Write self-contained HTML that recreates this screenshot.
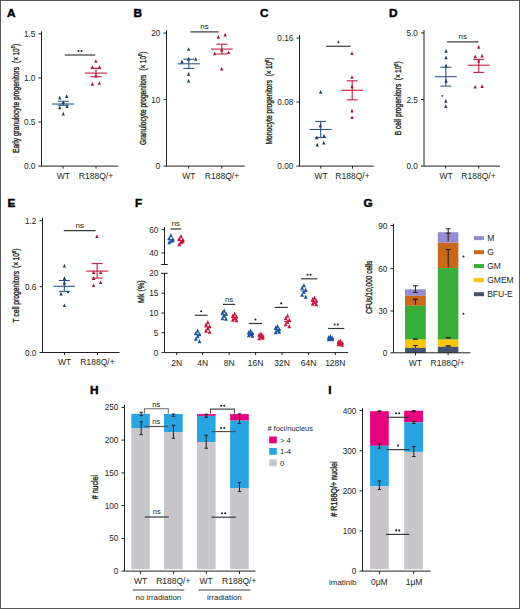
<!DOCTYPE html><html><head><meta charset="utf-8"><style>html,body{margin:0;padding:0;background:#fff;}svg{display:block;}text{font-family:"Liberation Sans", sans-serif;}</style></head><body>
<svg width="520" height="609" viewBox="0 0 520 609">
<rect x="0" y="0" width="520.00" height="609.00" fill="#ffffff"/>
<rect x="0.5" y="0.5" width="519" height="608" fill="none" stroke="#595959" stroke-width="1"/>
<text x="6.9" y="16.8" font-size="11.8" text-anchor="start" font-weight="bold" fill="#000" stroke="#000" stroke-width="0.45">A</text>
<line x1="41.5" y1="31.3" x2="41.5" y2="166.1" stroke="#231f20" stroke-width="1"/>
<line x1="38.5" y1="33.8" x2="41.5" y2="33.8" stroke="#231f20" stroke-width="1"/>
<text x="35.3" y="36.8" font-size="8.2" text-anchor="end" font-weight="normal" fill="#231f20" >1.5</text>
<line x1="38.5" y1="77.9" x2="41.5" y2="77.9" stroke="#231f20" stroke-width="1"/>
<text x="35.3" y="80.9" font-size="8.2" text-anchor="end" font-weight="normal" fill="#231f20" >1.0</text>
<line x1="38.5" y1="122" x2="41.5" y2="122" stroke="#231f20" stroke-width="1"/>
<text x="35.3" y="125.0" font-size="8.2" text-anchor="end" font-weight="normal" fill="#231f20" >0.5</text>
<line x1="38.5" y1="166.1" x2="41.5" y2="166.1" stroke="#231f20" stroke-width="1"/>
<text x="35.3" y="169.1" font-size="8.2" text-anchor="end" font-weight="normal" fill="#231f20" >0.0</text>
<line x1="41.5" y1="166.1" x2="118" y2="166.1" stroke="#231f20" stroke-width="1"/>
<line x1="63" y1="166.1" x2="63" y2="168.6" stroke="#231f20" stroke-width="1"/>
<line x1="96" y1="166.1" x2="96" y2="168.6" stroke="#231f20" stroke-width="1"/>
<text x="63.3" y="178.7" font-size="8.5" text-anchor="middle" font-weight="normal" fill="#231f20" >WT</text>
<text x="96" y="178.7" font-size="8.5" text-anchor="middle" font-weight="normal" fill="#231f20" >R188Q/+</text>
<text x="0" y="0" font-size="9.4" text-anchor="middle" fill="#231f20" stroke="#231f20" stroke-width="0.35" transform="translate(18.5,109.95) rotate(-90)" textLength="86.10" lengthAdjust="spacingAndGlyphs">Early granulocyte progenitors</text>
<text x="0" y="0" font-size="9.4" text-anchor="middle" fill="#231f20" stroke="#231f20" stroke-width="0.35" transform="translate(18.5,53.40) rotate(-90)" textLength="19.00" lengthAdjust="spacingAndGlyphs">(×&#8201;10<tspan font-size="5.6" dy="-3.3">6</tspan><tspan dy="3.3">)</tspan></text>
<line x1="64.8" y1="55" x2="95.2" y2="55" stroke="#383838" stroke-width="1.2"/>
<circle cx="78.45" cy="51.00" r="1.05" fill="#231f20"/>
<circle cx="81.55" cy="51.00" r="1.05" fill="#231f20"/>
<line x1="52.25" y1="104" x2="74.25" y2="104" stroke="#2d5688" stroke-width="1.1"/>
<line x1="63.25" y1="101.3" x2="63.25" y2="105.3" stroke="#2d5688" stroke-width="1.1"/>
<line x1="57.75" y1="101.3" x2="68.75" y2="101.3" stroke="#2d5688" stroke-width="1.1"/>
<line x1="57.75" y1="105.3" x2="68.75" y2="105.3" stroke="#2d5688" stroke-width="1.1"/>
<path d="M59.80 95.82 L61.45 99.45 L58.15 99.45Z" fill="#1c3a6a"/>
<path d="M66.70 94.32 L68.35 97.95 L65.05 97.95Z" fill="#1c3a6a"/>
<path d="M63.30 100.42 L64.95 104.05 L61.65 104.05Z" fill="#1c3a6a"/>
<path d="M59.80 105.62 L61.45 109.25 L58.15 109.25Z" fill="#1c3a6a"/>
<path d="M67.00 104.42 L68.65 108.05 L65.35 108.05Z" fill="#1c3a6a"/>
<path d="M63.30 111.82 L64.95 115.45 L61.65 115.45Z" fill="#1c3a6a"/>
<line x1="85.0" y1="73.1" x2="107.0" y2="73.1" stroke="#c21f3f" stroke-width="1.1"/>
<line x1="96" y1="68.3" x2="96" y2="76.7" stroke="#c21f3f" stroke-width="1.1"/>
<line x1="90.5" y1="68.3" x2="101.5" y2="68.3" stroke="#c21f3f" stroke-width="1.1"/>
<line x1="90.5" y1="76.7" x2="101.5" y2="76.7" stroke="#c21f3f" stroke-width="1.1"/>
<path d="M95.90 59.12 L97.55 62.75 L94.25 62.75Z" fill="#b0102f"/>
<path d="M92.40 65.32 L94.05 68.95 L90.75 68.95Z" fill="#b0102f"/>
<path d="M99.40 65.32 L101.05 68.95 L97.75 68.95Z" fill="#b0102f"/>
<path d="M95.90 73.82 L97.55 77.45 L94.25 77.45Z" fill="#b0102f"/>
<path d="M92.40 82.02 L94.05 85.65 L90.75 85.65Z" fill="#b0102f"/>
<path d="M99.40 81.12 L101.05 84.75 L97.75 84.75Z" fill="#b0102f"/>
<text x="133.4" y="17" font-size="11.8" text-anchor="start" font-weight="bold" fill="#000" stroke="#000" stroke-width="0.45">B</text>
<line x1="166.5" y1="30.1" x2="166.5" y2="166.1" stroke="#231f20" stroke-width="1"/>
<line x1="163.5" y1="33.1" x2="166.5" y2="33.1" stroke="#231f20" stroke-width="1"/>
<text x="160.3" y="36.1" font-size="8.2" text-anchor="end" font-weight="normal" fill="#231f20" >20</text>
<line x1="163.5" y1="99.5" x2="166.5" y2="99.5" stroke="#231f20" stroke-width="1"/>
<text x="160.3" y="102.5" font-size="8.2" text-anchor="end" font-weight="normal" fill="#231f20" >10</text>
<line x1="163.5" y1="166.1" x2="166.5" y2="166.1" stroke="#231f20" stroke-width="1"/>
<text x="160.3" y="169.1" font-size="8.2" text-anchor="end" font-weight="normal" fill="#231f20" >0</text>
<line x1="166.5" y1="166.1" x2="244.8" y2="166.1" stroke="#231f20" stroke-width="1"/>
<line x1="188.6" y1="166.1" x2="188.6" y2="168.6" stroke="#231f20" stroke-width="1"/>
<line x1="221.8" y1="166.1" x2="221.8" y2="168.6" stroke="#231f20" stroke-width="1"/>
<text x="188.8" y="178.7" font-size="8.5" text-anchor="middle" font-weight="normal" fill="#231f20" >WT</text>
<text x="222" y="178.7" font-size="8.5" text-anchor="middle" font-weight="normal" fill="#231f20" >R188Q/+</text>
<text x="0" y="0" font-size="9.4" text-anchor="middle" fill="#231f20" stroke="#231f20" stroke-width="0.35" transform="translate(145.6,109.80) rotate(-90)" textLength="70.40" lengthAdjust="spacingAndGlyphs">Granulocyte progenitors</text>
<text x="0" y="0" font-size="9.4" text-anchor="middle" fill="#231f20" stroke="#231f20" stroke-width="0.35" transform="translate(145.6,61.10) rotate(-90)" textLength="19.00" lengthAdjust="spacingAndGlyphs">(×&#8201;10<tspan font-size="5.6" dy="-3.3">6</tspan><tspan dy="3.3">)</tspan></text>
<line x1="190.3" y1="31.9" x2="218.8" y2="31.9" stroke="#383838" stroke-width="1.2"/>
<text x="204.55" y="29.299999999999997" font-size="8.0" text-anchor="middle" font-weight="normal" fill="#231f20" >ns</text>
<line x1="177.85" y1="63.8" x2="199.85" y2="63.8" stroke="#2d5688" stroke-width="1.1"/>
<line x1="188.85" y1="59.2" x2="188.85" y2="68.4" stroke="#2d5688" stroke-width="1.1"/>
<line x1="183.35" y1="59.2" x2="194.35" y2="59.2" stroke="#2d5688" stroke-width="1.1"/>
<line x1="183.35" y1="68.4" x2="194.35" y2="68.4" stroke="#2d5688" stroke-width="1.1"/>
<path d="M188.60 47.22 L190.25 50.85 L186.95 50.85Z" fill="#1c3a6a"/>
<path d="M181.90 59.62 L183.55 63.25 L180.25 63.25Z" fill="#1c3a6a"/>
<path d="M188.60 57.02 L190.25 60.65 L186.95 60.65Z" fill="#1c3a6a"/>
<path d="M195.80 57.22 L197.45 60.85 L194.15 60.85Z" fill="#1c3a6a"/>
<path d="M188.60 72.02 L190.25 75.65 L186.95 75.65Z" fill="#1c3a6a"/>
<path d="M188.60 78.92 L190.25 82.55 L186.95 82.55Z" fill="#1c3a6a"/>
<line x1="210.85" y1="49.1" x2="232.85" y2="49.1" stroke="#c21f3f" stroke-width="1.1"/>
<line x1="221.85" y1="44.2" x2="221.85" y2="54" stroke="#c21f3f" stroke-width="1.1"/>
<line x1="216.35" y1="44.2" x2="227.35" y2="44.2" stroke="#c21f3f" stroke-width="1.1"/>
<line x1="216.35" y1="54" x2="227.35" y2="54" stroke="#c21f3f" stroke-width="1.1"/>
<path d="M218.30 35.12 L219.95 38.75 L216.65 38.75Z" fill="#b0102f"/>
<path d="M225.20 32.82 L226.85 36.45 L223.55 36.45Z" fill="#b0102f"/>
<path d="M214.80 51.52 L216.45 55.15 L213.15 55.15Z" fill="#b0102f"/>
<path d="M221.70 48.02 L223.35 51.65 L220.05 51.65Z" fill="#b0102f"/>
<path d="M228.60 50.42 L230.25 54.05 L226.95 54.05Z" fill="#b0102f"/>
<path d="M221.70 66.82 L223.35 70.45 L220.05 70.45Z" fill="#b0102f"/>
<text x="260" y="17" font-size="11.8" text-anchor="start" font-weight="bold" fill="#000" stroke="#000" stroke-width="0.45">C</text>
<line x1="299.5" y1="35.2" x2="299.5" y2="166.1" stroke="#231f20" stroke-width="1"/>
<line x1="296.5" y1="38.1" x2="299.5" y2="38.1" stroke="#231f20" stroke-width="1"/>
<text x="293.3" y="41.1" font-size="8.2" text-anchor="end" font-weight="normal" fill="#231f20" >0.16</text>
<line x1="296.5" y1="102.1" x2="299.5" y2="102.1" stroke="#231f20" stroke-width="1"/>
<text x="293.3" y="105.1" font-size="8.2" text-anchor="end" font-weight="normal" fill="#231f20" >0.08</text>
<line x1="296.5" y1="166.1" x2="299.5" y2="166.1" stroke="#231f20" stroke-width="1"/>
<text x="293.3" y="169.1" font-size="8.2" text-anchor="end" font-weight="normal" fill="#231f20" >0.00</text>
<line x1="299.5" y1="166.1" x2="373.75" y2="166.1" stroke="#231f20" stroke-width="1"/>
<line x1="320.75" y1="166.1" x2="320.75" y2="168.6" stroke="#231f20" stroke-width="1"/>
<line x1="352.5" y1="166.1" x2="352.5" y2="168.6" stroke="#231f20" stroke-width="1"/>
<text x="321" y="178.7" font-size="8.5" text-anchor="middle" font-weight="normal" fill="#231f20" >WT</text>
<text x="352.5" y="178.7" font-size="8.5" text-anchor="middle" font-weight="normal" fill="#231f20" >R188Q/+</text>
<text x="0" y="0" font-size="9.4" text-anchor="middle" fill="#231f20" stroke="#231f20" stroke-width="0.35" transform="translate(271.9,112.20) rotate(-90)" textLength="64.60" lengthAdjust="spacingAndGlyphs">Monocyte progenitors</text>
<text x="0" y="0" font-size="9.4" text-anchor="middle" fill="#231f20" stroke="#231f20" stroke-width="0.35" transform="translate(271.9,66.95) rotate(-90)" textLength="18.70" lengthAdjust="spacingAndGlyphs">(×&#8201;10<tspan font-size="5.6" dy="-3.3">6</tspan><tspan dy="3.3">)</tspan></text>
<line x1="326.1" y1="46.3" x2="350.6" y2="46.3" stroke="#383838" stroke-width="1.2"/>
<circle cx="338.35" cy="42.30" r="1.05" fill="#231f20"/>
<line x1="341.2" y1="90.3" x2="363.2" y2="90.3" stroke="#c21f3f" stroke-width="1.1"/>
<line x1="352.2" y1="80.8" x2="352.2" y2="99.8" stroke="#c21f3f" stroke-width="1.1"/>
<line x1="346.7" y1="80.8" x2="357.7" y2="80.8" stroke="#c21f3f" stroke-width="1.1"/>
<line x1="346.7" y1="99.8" x2="357.7" y2="99.8" stroke="#c21f3f" stroke-width="1.1"/>
<path d="M352.00 51.32 L353.65 54.95 L350.35 54.95Z" fill="#b0102f"/>
<path d="M352.00 75.22 L353.65 78.85 L350.35 78.85Z" fill="#b0102f"/>
<path d="M352.00 84.72 L353.65 88.35 L350.35 88.35Z" fill="#b0102f"/>
<path d="M352.00 108.82 L353.65 112.45 L350.35 112.45Z" fill="#b0102f"/>
<path d="M352.00 115.42 L353.65 119.05 L350.35 119.05Z" fill="#b0102f"/>
<line x1="309.7" y1="129.5" x2="331.7" y2="129.5" stroke="#2d5688" stroke-width="1.1"/>
<line x1="320.7" y1="121.4" x2="320.7" y2="137.5" stroke="#2d5688" stroke-width="1.1"/>
<line x1="315.2" y1="121.4" x2="326.2" y2="121.4" stroke="#2d5688" stroke-width="1.1"/>
<line x1="315.2" y1="137.5" x2="326.2" y2="137.5" stroke="#2d5688" stroke-width="1.1"/>
<path d="M320.60 90.02 L322.25 93.65 L318.95 93.65Z" fill="#1c3a6a"/>
<path d="M320.40 123.62 L322.05 127.25 L318.75 127.25Z" fill="#1c3a6a"/>
<path d="M316.90 135.62 L318.55 139.25 L315.25 139.25Z" fill="#1c3a6a"/>
<path d="M324.00 134.02 L325.65 137.65 L322.35 137.65Z" fill="#1c3a6a"/>
<path d="M317.30 142.82 L318.95 146.45 L315.65 146.45Z" fill="#1c3a6a"/>
<path d="M323.80 140.82 L325.45 144.45 L322.15 144.45Z" fill="#1c3a6a"/>
<text x="389.1" y="17" font-size="11.8" text-anchor="start" font-weight="bold" fill="#000" stroke="#000" stroke-width="0.45">D</text>
<line x1="424.0" y1="30.1" x2="424.0" y2="166.1" stroke="#231f20" stroke-width="1"/>
<line x1="421.0" y1="32.9" x2="424.0" y2="32.9" stroke="#231f20" stroke-width="1"/>
<text x="417.8" y="35.9" font-size="8.2" text-anchor="end" font-weight="normal" fill="#231f20" >5.0</text>
<line x1="421.0" y1="99.5" x2="424.0" y2="99.5" stroke="#231f20" stroke-width="1"/>
<text x="417.8" y="102.5" font-size="8.2" text-anchor="end" font-weight="normal" fill="#231f20" >2.5</text>
<line x1="421.0" y1="166.1" x2="424.0" y2="166.1" stroke="#231f20" stroke-width="1"/>
<text x="417.8" y="169.1" font-size="8.2" text-anchor="end" font-weight="normal" fill="#231f20" >0.0</text>
<line x1="424.0" y1="166.1" x2="500" y2="166.1" stroke="#231f20" stroke-width="1"/>
<line x1="445.75" y1="166.1" x2="445.75" y2="168.6" stroke="#231f20" stroke-width="1"/>
<line x1="478.75" y1="166.1" x2="478.75" y2="168.6" stroke="#231f20" stroke-width="1"/>
<text x="446" y="178.7" font-size="8.5" text-anchor="middle" font-weight="normal" fill="#231f20" >WT</text>
<text x="478.5" y="178.7" font-size="8.5" text-anchor="middle" font-weight="normal" fill="#231f20" >R188Q/+</text>
<text x="0" y="0" font-size="9.4" text-anchor="middle" fill="#231f20" stroke="#231f20" stroke-width="0.35" transform="translate(400.8,109.45) rotate(-90)" textLength="51.70" lengthAdjust="spacingAndGlyphs">B cell progenitors</text>
<text x="0" y="0" font-size="9.4" text-anchor="middle" fill="#231f20" stroke="#231f20" stroke-width="0.35" transform="translate(400.8,70.78) rotate(-90)" textLength="19.05" lengthAdjust="spacingAndGlyphs">(×&#8201;10<tspan font-size="5.6" dy="-3.3">6</tspan><tspan dy="3.3">)</tspan></text>
<line x1="447.1" y1="41.9" x2="478.4" y2="41.9" stroke="#383838" stroke-width="1.2"/>
<text x="462.75" y="39.3" font-size="8.0" text-anchor="middle" font-weight="normal" fill="#231f20" >ns</text>
<line x1="434.85" y1="76.7" x2="456.85" y2="76.7" stroke="#2d5688" stroke-width="1.1"/>
<line x1="445.85" y1="67.3" x2="445.85" y2="86.1" stroke="#2d5688" stroke-width="1.1"/>
<line x1="440.35" y1="67.3" x2="451.35" y2="67.3" stroke="#2d5688" stroke-width="1.1"/>
<line x1="440.35" y1="86.1" x2="451.35" y2="86.1" stroke="#2d5688" stroke-width="1.1"/>
<path d="M446.10 49.12 L447.75 52.75 L444.45 52.75Z" fill="#1c3a6a"/>
<path d="M446.10 55.52 L447.75 59.15 L444.45 59.15Z" fill="#1c3a6a"/>
<path d="M446.10 63.62 L447.75 67.25 L444.45 67.25Z" fill="#1c3a6a"/>
<path d="M446.10 79.12 L447.75 82.75 L444.45 82.75Z" fill="#1c3a6a"/>
<path d="M445.80 99.02 L447.45 102.65 L444.15 102.65Z" fill="#1c3a6a"/>
<path d="M445.80 104.32 L447.45 107.95 L444.15 107.95Z" fill="#1c3a6a"/>
<circle cx="442.3" cy="95.8" r="0.9" fill="#1c3a6a"/>
<line x1="467.75" y1="65.2" x2="489.75" y2="65.2" stroke="#c21f3f" stroke-width="1.1"/>
<line x1="478.75" y1="59.4" x2="478.75" y2="72.4" stroke="#c21f3f" stroke-width="1.1"/>
<line x1="473.25" y1="59.4" x2="484.25" y2="59.4" stroke="#c21f3f" stroke-width="1.1"/>
<line x1="473.25" y1="72.4" x2="484.25" y2="72.4" stroke="#c21f3f" stroke-width="1.1"/>
<path d="M478.70 45.12 L480.35 48.75 L477.05 48.75Z" fill="#b0102f"/>
<path d="M475.20 54.62 L476.85 58.25 L473.55 58.25Z" fill="#b0102f"/>
<path d="M482.10 53.82 L483.75 57.45 L480.45 57.45Z" fill="#b0102f"/>
<path d="M478.70 58.92 L480.35 62.55 L477.05 62.55Z" fill="#b0102f"/>
<path d="M475.20 84.92 L476.85 88.55 L473.55 88.55Z" fill="#b0102f"/>
<path d="M482.10 84.32 L483.75 87.95 L480.45 87.95Z" fill="#b0102f"/>
<text x="7.6" y="207" font-size="11.8" text-anchor="start" font-weight="bold" fill="#000" stroke="#000" stroke-width="0.45">E</text>
<line x1="42.5" y1="217.8" x2="42.5" y2="352.5" stroke="#231f20" stroke-width="1"/>
<line x1="39.5" y1="220.7" x2="42.5" y2="220.7" stroke="#231f20" stroke-width="1"/>
<text x="36.3" y="223.7" font-size="8.2" text-anchor="end" font-weight="normal" fill="#231f20" >1.2</text>
<line x1="39.5" y1="286.6" x2="42.5" y2="286.6" stroke="#231f20" stroke-width="1"/>
<text x="36.3" y="289.6" font-size="8.2" text-anchor="end" font-weight="normal" fill="#231f20" >0.6</text>
<line x1="39.5" y1="352.5" x2="42.5" y2="352.5" stroke="#231f20" stroke-width="1"/>
<text x="36.3" y="355.5" font-size="8.2" text-anchor="end" font-weight="normal" fill="#231f20" >0.0</text>
<line x1="42.5" y1="352.5" x2="119.5" y2="352.5" stroke="#231f20" stroke-width="1"/>
<line x1="64.5" y1="352.5" x2="64.5" y2="355.0" stroke="#231f20" stroke-width="1"/>
<line x1="97.5" y1="352.5" x2="97.5" y2="355.0" stroke="#231f20" stroke-width="1"/>
<text x="64.5" y="365.2" font-size="8.5" text-anchor="middle" font-weight="normal" fill="#231f20" >WT</text>
<text x="97.5" y="365.2" font-size="8.5" text-anchor="middle" font-weight="normal" fill="#231f20" >R188Q/+</text>
<text x="0" y="0" font-size="9.4" text-anchor="middle" fill="#231f20" stroke="#231f20" stroke-width="0.35" transform="translate(19.4,296.70) rotate(-90)" textLength="51.60" lengthAdjust="spacingAndGlyphs">T cell progenitors</text>
<text x="0" y="0" font-size="9.4" text-anchor="middle" fill="#231f20" stroke="#231f20" stroke-width="0.35" transform="translate(19.4,258.30) rotate(-90)" textLength="19.40" lengthAdjust="spacingAndGlyphs">(×&#8201;10<tspan font-size="5.6" dy="-3.3">6</tspan><tspan dy="3.3">)</tspan></text>
<line x1="63.8" y1="230.6" x2="95.6" y2="230.6" stroke="#383838" stroke-width="1.2"/>
<text x="79.69999999999999" y="228.0" font-size="8.0" text-anchor="middle" font-weight="normal" fill="#231f20" >ns</text>
<line x1="86.15" y1="271.1" x2="108.15" y2="271.1" stroke="#c21f3f" stroke-width="1.1"/>
<line x1="97.15" y1="263.6" x2="97.15" y2="278.1" stroke="#c21f3f" stroke-width="1.1"/>
<line x1="91.65" y1="263.6" x2="102.65" y2="263.6" stroke="#c21f3f" stroke-width="1.1"/>
<line x1="91.65" y1="278.1" x2="102.65" y2="278.1" stroke="#c21f3f" stroke-width="1.1"/>
<path d="M96.90 234.42 L98.55 238.05 L95.25 238.05Z" fill="#b0102f"/>
<path d="M93.60 270.32 L95.25 273.95 L91.95 273.95Z" fill="#b0102f"/>
<path d="M100.70 270.32 L102.35 273.95 L99.05 273.95Z" fill="#b0102f"/>
<path d="M93.60 276.32 L95.25 279.95 L91.95 279.95Z" fill="#b0102f"/>
<path d="M100.70 280.32 L102.35 283.95 L99.05 283.95Z" fill="#b0102f"/>
<path d="M93.60 283.42 L95.25 287.05 L91.95 287.05Z" fill="#b0102f"/>
<line x1="53.3" y1="286.3" x2="75.3" y2="286.3" stroke="#2d5688" stroke-width="1.1"/>
<line x1="64.3" y1="280.5" x2="64.3" y2="291.4" stroke="#2d5688" stroke-width="1.1"/>
<line x1="58.8" y1="280.5" x2="69.8" y2="280.5" stroke="#2d5688" stroke-width="1.1"/>
<line x1="58.8" y1="291.4" x2="69.8" y2="291.4" stroke="#2d5688" stroke-width="1.1"/>
<path d="M64.40 263.82 L66.05 267.45 L62.75 267.45Z" fill="#1c3a6a"/>
<path d="M64.40 276.32 L66.05 279.95 L62.75 279.95Z" fill="#1c3a6a"/>
<path d="M64.40 280.82 L66.05 284.45 L62.75 284.45Z" fill="#1c3a6a"/>
<path d="M61.00 291.82 L62.65 295.45 L59.35 295.45Z" fill="#1c3a6a"/>
<path d="M64.40 303.42 L66.05 307.05 L62.75 307.05Z" fill="#1c3a6a"/>
<circle cx="67.9" cy="292.3" r="1.1" fill="#1c3a6a"/>
<text x="134.9" y="207" font-size="11.8" text-anchor="start" font-weight="bold" fill="#000" stroke="#000" stroke-width="0.45">F</text>
<line x1="164.5" y1="227.1" x2="164.5" y2="264.5" stroke="#231f20" stroke-width="1"/>
<line x1="161.1" y1="264.5" x2="167.7" y2="264.5" stroke="#231f20" stroke-width="1"/>
<line x1="161.5" y1="229.7" x2="164.5" y2="229.7" stroke="#231f20" stroke-width="1"/>
<text x="158.3" y="232.7" font-size="8.2" text-anchor="end" font-weight="normal" fill="#231f20" >60</text>
<line x1="161.5" y1="252.9" x2="164.5" y2="252.9" stroke="#231f20" stroke-width="1"/>
<text x="158.3" y="255.9" font-size="8.2" text-anchor="end" font-weight="normal" fill="#231f20" >40</text>
<line x1="164.5" y1="273.3" x2="164.5" y2="352.6" stroke="#231f20" stroke-width="1"/>
<line x1="161.1" y1="273.3" x2="167.7" y2="273.3" stroke="#231f20" stroke-width="1"/>
<text x="158.3" y="276.3" font-size="8.2" text-anchor="end" font-weight="normal" fill="#231f20" >20</text>
<line x1="161.5" y1="293.2" x2="164.5" y2="293.2" stroke="#231f20" stroke-width="1"/>
<text x="158.3" y="296.2" font-size="8.2" text-anchor="end" font-weight="normal" fill="#231f20" >15</text>
<line x1="161.5" y1="313" x2="164.5" y2="313" stroke="#231f20" stroke-width="1"/>
<text x="158.3" y="316.0" font-size="8.2" text-anchor="end" font-weight="normal" fill="#231f20" >10</text>
<line x1="161.5" y1="332.8" x2="164.5" y2="332.8" stroke="#231f20" stroke-width="1"/>
<text x="158.3" y="335.8" font-size="8.2" text-anchor="end" font-weight="normal" fill="#231f20" >5</text>
<line x1="161.5" y1="352.6" x2="164.5" y2="352.6" stroke="#231f20" stroke-width="1"/>
<text x="158.3" y="355.6" font-size="8.2" text-anchor="end" font-weight="normal" fill="#231f20" >0</text>
<line x1="164.5" y1="352.6" x2="348.2" y2="352.6" stroke="#231f20" stroke-width="1"/>
<line x1="176.7" y1="352.6" x2="176.7" y2="355.1" stroke="#231f20" stroke-width="1"/>
<line x1="202.6" y1="352.6" x2="202.6" y2="355.1" stroke="#231f20" stroke-width="1"/>
<line x1="229.1" y1="352.6" x2="229.1" y2="355.1" stroke="#231f20" stroke-width="1"/>
<line x1="255.6" y1="352.6" x2="255.6" y2="355.1" stroke="#231f20" stroke-width="1"/>
<line x1="282.1" y1="352.6" x2="282.1" y2="355.1" stroke="#231f20" stroke-width="1"/>
<line x1="308.6" y1="352.6" x2="308.6" y2="355.1" stroke="#231f20" stroke-width="1"/>
<line x1="335.3" y1="352.6" x2="335.3" y2="355.1" stroke="#231f20" stroke-width="1"/>
<text x="176.7" y="366.2" font-size="8.5" text-anchor="middle" font-weight="normal" fill="#231f20" >2N</text>
<text x="202.6" y="366.2" font-size="8.5" text-anchor="middle" font-weight="normal" fill="#231f20" >4N</text>
<text x="229.1" y="366.2" font-size="8.5" text-anchor="middle" font-weight="normal" fill="#231f20" >8N</text>
<text x="255.6" y="366.2" font-size="8.5" text-anchor="middle" font-weight="normal" fill="#231f20" >16N</text>
<text x="282.1" y="366.2" font-size="8.5" text-anchor="middle" font-weight="normal" fill="#231f20" >32N</text>
<text x="308.6" y="366.2" font-size="8.5" text-anchor="middle" font-weight="normal" fill="#231f20" >64N</text>
<text x="335.3" y="366.2" font-size="8.5" text-anchor="middle" font-weight="normal" fill="#231f20" >128N</text>
<text x="0" y="0" font-size="9.4" text-anchor="middle" fill="#231f20" transform="translate(143.5,291.6) rotate(-90)" stroke="#231f20" stroke-width="0.35" textLength="22.6" lengthAdjust="spacingAndGlyphs">Mk (%)</text>
<line x1="170.5" y1="229" x2="181.3" y2="229" stroke="#383838" stroke-width="1.2"/>
<text x="175.9" y="226.4" font-size="7.8" text-anchor="middle" font-weight="normal" fill="#231f20" >ns</text>
<line x1="194.8" y1="315.3" x2="207.5" y2="315.3" stroke="#383838" stroke-width="1.2"/>
<circle cx="201.15" cy="311.30" r="1.05" fill="#231f20"/>
<line x1="223" y1="304.4" x2="235.2" y2="304.4" stroke="#383838" stroke-width="1.2"/>
<text x="229.1" y="301.79999999999995" font-size="7.8" text-anchor="middle" font-weight="normal" fill="#231f20" >ns</text>
<line x1="248.9" y1="323.5" x2="262" y2="323.5" stroke="#383838" stroke-width="1.2"/>
<circle cx="255.45" cy="319.50" r="1.05" fill="#231f20"/>
<line x1="274.7" y1="307.4" x2="287.8" y2="307.4" stroke="#383838" stroke-width="1.2"/>
<circle cx="281.25" cy="303.40" r="1.05" fill="#231f20"/>
<line x1="300.9" y1="278.8" x2="317.3" y2="278.8" stroke="#383838" stroke-width="1.2"/>
<circle cx="307.55" cy="274.80" r="1.05" fill="#231f20"/>
<circle cx="310.65" cy="274.80" r="1.05" fill="#231f20"/>
<line x1="328.1" y1="328.5" x2="344.3" y2="328.5" stroke="#383838" stroke-width="1.2"/>
<circle cx="334.65" cy="324.50" r="1.05" fill="#231f20"/>
<circle cx="337.75" cy="324.50" r="1.05" fill="#231f20"/>
<path d="M171.00 232.99 L172.90 237.17 L169.10 237.17Z" fill="#1d559c"/>
<path d="M169.20 235.99 L171.10 240.17 L167.30 240.17Z" fill="#1d559c"/>
<path d="M172.80 236.99 L174.70 241.17 L170.90 241.17Z" fill="#1d559c"/>
<path d="M171.00 238.49 L172.90 242.67 L169.10 242.67Z" fill="#1d559c"/>
<path d="M169.20 239.99 L171.10 244.17 L167.30 244.17Z" fill="#1d559c"/>
<path d="M172.80 237.99 L174.70 242.17 L170.90 242.17Z" fill="#1d559c"/>
<path d="M181.00 233.99 L182.90 238.17 L179.10 238.17Z" fill="#cb143b"/>
<path d="M179.20 236.49 L181.10 240.67 L177.30 240.67Z" fill="#cb143b"/>
<path d="M182.80 237.49 L184.70 241.67 L180.90 241.67Z" fill="#cb143b"/>
<path d="M181.00 239.99 L182.90 244.17 L179.10 244.17Z" fill="#cb143b"/>
<path d="M179.20 241.99 L181.10 246.17 L177.30 246.17Z" fill="#cb143b"/>
<path d="M182.80 238.99 L184.70 243.17 L180.90 243.17Z" fill="#cb143b"/>
<path d="M197.70 328.49 L199.60 332.67 L195.80 332.67Z" fill="#1d559c"/>
<path d="M195.90 330.99 L197.80 335.17 L194.00 335.17Z" fill="#1d559c"/>
<path d="M199.50 331.99 L201.40 336.17 L197.60 336.17Z" fill="#1d559c"/>
<path d="M197.70 333.99 L199.60 338.17 L195.80 338.17Z" fill="#1d559c"/>
<path d="M195.90 336.49 L197.80 340.67 L194.00 340.67Z" fill="#1d559c"/>
<path d="M199.50 338.99 L201.40 343.17 L197.60 343.17Z" fill="#1d559c"/>
<path d="M207.80 319.99 L209.70 324.17 L205.90 324.17Z" fill="#cb143b"/>
<path d="M206.00 322.49 L207.90 326.67 L204.10 326.67Z" fill="#cb143b"/>
<path d="M209.60 323.99 L211.50 328.17 L207.70 328.17Z" fill="#cb143b"/>
<path d="M207.80 325.99 L209.70 330.17 L205.90 330.17Z" fill="#cb143b"/>
<path d="M206.00 328.49 L207.90 332.67 L204.10 332.67Z" fill="#cb143b"/>
<path d="M209.60 329.49 L211.50 333.67 L207.70 333.67Z" fill="#cb143b"/>
<path d="M224.20 308.49 L226.10 312.67 L222.30 312.67Z" fill="#1d559c"/>
<path d="M222.40 310.49 L224.30 314.67 L220.50 314.67Z" fill="#1d559c"/>
<path d="M226.00 311.49 L227.90 315.67 L224.10 315.67Z" fill="#1d559c"/>
<path d="M224.20 313.49 L226.10 317.67 L222.30 317.67Z" fill="#1d559c"/>
<path d="M222.40 315.99 L224.30 320.17 L220.50 320.17Z" fill="#1d559c"/>
<path d="M226.00 316.49 L227.90 320.67 L224.10 320.67Z" fill="#1d559c"/>
<path d="M234.60 311.49 L236.50 315.67 L232.70 315.67Z" fill="#cb143b"/>
<path d="M232.80 313.49 L234.70 317.67 L230.90 317.67Z" fill="#cb143b"/>
<path d="M236.40 314.49 L238.30 318.67 L234.50 318.67Z" fill="#cb143b"/>
<path d="M234.60 315.99 L236.50 320.17 L232.70 320.17Z" fill="#cb143b"/>
<path d="M232.80 317.49 L234.70 321.67 L230.90 321.67Z" fill="#cb143b"/>
<path d="M236.40 317.99 L238.30 322.17 L234.50 322.17Z" fill="#cb143b"/>
<path d="M250.60 328.49 L252.50 332.67 L248.70 332.67Z" fill="#1d559c"/>
<path d="M248.80 329.99 L250.70 334.17 L246.90 334.17Z" fill="#1d559c"/>
<path d="M252.40 330.99 L254.30 335.17 L250.50 335.17Z" fill="#1d559c"/>
<path d="M250.60 331.99 L252.50 336.17 L248.70 336.17Z" fill="#1d559c"/>
<path d="M248.80 332.99 L250.70 337.17 L246.90 337.17Z" fill="#1d559c"/>
<path d="M252.40 333.49 L254.30 337.67 L250.50 337.67Z" fill="#1d559c"/>
<path d="M261.00 331.49 L262.90 335.67 L259.10 335.67Z" fill="#cb143b"/>
<path d="M259.20 332.49 L261.10 336.67 L257.30 336.67Z" fill="#cb143b"/>
<path d="M262.80 333.49 L264.70 337.67 L260.90 337.67Z" fill="#cb143b"/>
<path d="M261.00 334.49 L262.90 338.67 L259.10 338.67Z" fill="#cb143b"/>
<path d="M259.20 335.99 L261.10 340.17 L257.30 340.17Z" fill="#cb143b"/>
<path d="M262.80 335.49 L264.70 339.67 L260.90 339.67Z" fill="#cb143b"/>
<path d="M277.40 323.99 L279.30 328.17 L275.50 328.17Z" fill="#1d559c"/>
<path d="M275.60 325.49 L277.50 329.67 L273.70 329.67Z" fill="#1d559c"/>
<path d="M279.20 326.99 L281.10 331.17 L277.30 331.17Z" fill="#1d559c"/>
<path d="M277.40 327.99 L279.30 332.17 L275.50 332.17Z" fill="#1d559c"/>
<path d="M275.60 329.99 L277.50 334.17 L273.70 334.17Z" fill="#1d559c"/>
<path d="M279.20 329.49 L281.10 333.67 L277.30 333.67Z" fill="#1d559c"/>
<path d="M287.50 313.49 L289.40 317.67 L285.60 317.67Z" fill="#cb143b"/>
<path d="M285.70 315.99 L287.60 320.17 L283.80 320.17Z" fill="#cb143b"/>
<path d="M289.30 317.49 L291.20 321.67 L287.40 321.67Z" fill="#cb143b"/>
<path d="M287.50 319.49 L289.40 323.67 L285.60 323.67Z" fill="#cb143b"/>
<path d="M285.70 321.99 L287.60 326.17 L283.80 326.17Z" fill="#cb143b"/>
<path d="M289.30 323.99 L291.20 328.17 L287.40 328.17Z" fill="#cb143b"/>
<path d="M303.90 282.99 L305.80 287.17 L302.00 287.17Z" fill="#1d559c"/>
<path d="M302.10 285.49 L304.00 289.67 L300.20 289.67Z" fill="#1d559c"/>
<path d="M305.70 287.49 L307.60 291.67 L303.80 291.67Z" fill="#1d559c"/>
<path d="M303.90 289.49 L305.80 293.67 L302.00 293.67Z" fill="#1d559c"/>
<path d="M302.10 292.49 L304.00 296.67 L300.20 296.67Z" fill="#1d559c"/>
<path d="M305.70 294.49 L307.60 298.67 L303.80 298.67Z" fill="#1d559c"/>
<path d="M314.40 295.49 L316.30 299.67 L312.50 299.67Z" fill="#cb143b"/>
<path d="M312.60 296.99 L314.50 301.17 L310.70 301.17Z" fill="#cb143b"/>
<path d="M316.20 298.49 L318.10 302.67 L314.30 302.67Z" fill="#cb143b"/>
<path d="M314.40 299.99 L316.30 304.17 L312.50 304.17Z" fill="#cb143b"/>
<path d="M312.60 301.49 L314.50 305.67 L310.70 305.67Z" fill="#cb143b"/>
<path d="M316.20 301.99 L318.10 306.17 L314.30 306.17Z" fill="#cb143b"/>
<path d="M330.50 333.99 L332.40 338.17 L328.60 338.17Z" fill="#1d559c"/>
<path d="M328.70 334.99 L330.60 339.17 L326.80 339.17Z" fill="#1d559c"/>
<path d="M332.30 335.49 L334.20 339.67 L330.40 339.67Z" fill="#1d559c"/>
<path d="M330.50 336.49 L332.40 340.67 L328.60 340.67Z" fill="#1d559c"/>
<path d="M328.70 336.99 L330.60 341.17 L326.80 341.17Z" fill="#1d559c"/>
<path d="M332.30 336.99 L334.20 341.17 L330.40 341.17Z" fill="#1d559c"/>
<path d="M340.30 338.49 L342.20 342.67 L338.40 342.67Z" fill="#cb143b"/>
<path d="M338.50 339.49 L340.40 343.67 L336.60 343.67Z" fill="#cb143b"/>
<path d="M342.10 340.49 L344.00 344.67 L340.20 344.67Z" fill="#cb143b"/>
<path d="M340.30 341.49 L342.20 345.67 L338.40 345.67Z" fill="#cb143b"/>
<path d="M338.50 341.99 L340.40 346.17 L336.60 346.17Z" fill="#cb143b"/>
<path d="M342.10 342.49 L344.00 346.67 L340.20 346.67Z" fill="#cb143b"/>
<line x1="167.7" y1="239.5" x2="174.3" y2="239.5" stroke="#1d559c" stroke-width="1"/>
<line x1="177.7" y1="240.5" x2="184.3" y2="240.5" stroke="#cb143b" stroke-width="1"/>
<line x1="194.39999999999998" y1="334.4" x2="201.0" y2="334.4" stroke="#1d559c" stroke-width="1"/>
<line x1="204.5" y1="327" x2="211.10000000000002" y2="327" stroke="#cb143b" stroke-width="1"/>
<line x1="220.89999999999998" y1="315" x2="227.5" y2="315" stroke="#1d559c" stroke-width="1"/>
<line x1="231.29999999999998" y1="317.5" x2="237.9" y2="317.5" stroke="#cb143b" stroke-width="1"/>
<line x1="247.29999999999998" y1="333.5" x2="253.9" y2="333.5" stroke="#1d559c" stroke-width="1"/>
<line x1="257.7" y1="336" x2="264.3" y2="336" stroke="#cb143b" stroke-width="1"/>
<line x1="274.09999999999997" y1="329.5" x2="280.7" y2="329.5" stroke="#1d559c" stroke-width="1"/>
<line x1="284.2" y1="321.5" x2="290.8" y2="321.5" stroke="#cb143b" stroke-width="1"/>
<line x1="300.59999999999997" y1="291" x2="307.2" y2="291" stroke="#1d559c" stroke-width="1"/>
<line x1="311.09999999999997" y1="301.5" x2="317.7" y2="301.5" stroke="#cb143b" stroke-width="1"/>
<line x1="327.2" y1="338.5" x2="333.8" y2="338.5" stroke="#1d559c" stroke-width="1"/>
<line x1="337.0" y1="343.5" x2="343.6" y2="343.5" stroke="#cb143b" stroke-width="1"/>
<text x="363.5" y="207" font-size="11.8" text-anchor="start" font-weight="bold" fill="#000" stroke="#000" stroke-width="0.45">G</text>
<line x1="393.5" y1="223.6" x2="393.5" y2="352.8" stroke="#231f20" stroke-width="1"/>
<line x1="390.5" y1="225.5" x2="393.5" y2="225.5" stroke="#231f20" stroke-width="1"/>
<text x="387.3" y="228.5" font-size="8.2" text-anchor="end" font-weight="normal" fill="#231f20" >90</text>
<line x1="390.5" y1="268.6" x2="393.5" y2="268.6" stroke="#231f20" stroke-width="1"/>
<text x="387.3" y="271.6" font-size="8.2" text-anchor="end" font-weight="normal" fill="#231f20" >60</text>
<line x1="390.5" y1="311" x2="393.5" y2="311" stroke="#231f20" stroke-width="1"/>
<text x="387.3" y="314.0" font-size="8.2" text-anchor="end" font-weight="normal" fill="#231f20" >30</text>
<line x1="390.5" y1="352.8" x2="393.5" y2="352.8" stroke="#231f20" stroke-width="1"/>
<text x="387.3" y="355.8" font-size="8.2" text-anchor="end" font-weight="normal" fill="#231f20" >0</text>
<rect x="405" y="289.3" width="20.80" height="6.50" fill="#958bd2"/>
<rect x="405" y="295.8" width="20.80" height="10.00" fill="#c8681a"/>
<rect x="405" y="305.8" width="20.80" height="33.80" fill="#38ae38"/>
<rect x="405" y="339.6" width="20.80" height="8.20" fill="#fbc60a"/>
<rect x="405" y="347.8" width="20.80" height="5.00" fill="#44536e"/>
<rect x="437.8" y="232.2" width="20.60" height="10.50" fill="#958bd2"/>
<rect x="437.8" y="242.7" width="20.60" height="25.40" fill="#c8681a"/>
<rect x="437.8" y="268.1" width="20.60" height="71.50" fill="#38ae38"/>
<rect x="437.8" y="339.6" width="20.60" height="7.20" fill="#fbc60a"/>
<rect x="437.8" y="346.8" width="20.60" height="6.00" fill="#44536e"/>
<line x1="393.5" y1="352.8" x2="470.4" y2="352.8" stroke="#231f20" stroke-width="1"/>
<line x1="415.5" y1="352.8" x2="415.5" y2="355.3" stroke="#231f20" stroke-width="1"/>
<line x1="448.1" y1="352.8" x2="448.1" y2="355.3" stroke="#231f20" stroke-width="1"/>
<text x="415.4" y="366" font-size="8.5" text-anchor="middle" font-weight="normal" fill="#231f20" >WT</text>
<text x="447.7" y="366" font-size="8.5" text-anchor="middle" font-weight="normal" fill="#231f20" >R188Q/+</text>
<text x="0" y="0" font-size="8.4" text-anchor="middle" fill="#231f20" transform="translate(371.5,287.3) rotate(-90)" stroke="#231f20" stroke-width="0.35" textLength="52.9" lengthAdjust="spacingAndGlyphs">CFUs/10,000 cells</text>
<line x1="448.2" y1="228.8" x2="448.2" y2="233.2" stroke="#2a1a10" stroke-width="1"/>
<line x1="445.8" y1="228.8" x2="450.59999999999997" y2="228.8" stroke="#2a1a10" stroke-width="1"/>
<line x1="445.8" y1="233.2" x2="450.59999999999997" y2="233.2" stroke="#2a1a10" stroke-width="1"/>
<line x1="448.2" y1="233.2" x2="448.2" y2="241.5" stroke="#2a1a10" stroke-width="1"/>
<line x1="448.2" y1="249.6" x2="448.2" y2="249.6" stroke="#2a1a10" stroke-width="1"/>
<line x1="445.8" y1="249.6" x2="450.59999999999997" y2="249.6" stroke="#2a1a10" stroke-width="1"/>
<line x1="445.8" y1="249.6" x2="450.59999999999997" y2="249.6" stroke="#2a1a10" stroke-width="1"/>
<line x1="448.2" y1="249.6" x2="448.2" y2="267.3" stroke="#2a1a10" stroke-width="1"/>
<line x1="448.2" y1="337.8" x2="448.2" y2="337.8" stroke="#2a1a10" stroke-width="1"/>
<line x1="445.8" y1="337.8" x2="450.59999999999997" y2="337.8" stroke="#2a1a10" stroke-width="1"/>
<line x1="445.8" y1="337.8" x2="450.59999999999997" y2="337.8" stroke="#2a1a10" stroke-width="1"/>
<line x1="448.2" y1="346" x2="448.2" y2="346" stroke="#2a1a10" stroke-width="1"/>
<line x1="445.8" y1="346" x2="450.59999999999997" y2="346" stroke="#2a1a10" stroke-width="1"/>
<line x1="445.8" y1="346" x2="450.59999999999997" y2="346" stroke="#2a1a10" stroke-width="1"/>
<line x1="415.4" y1="285.8" x2="415.4" y2="292.4" stroke="#2a1a10" stroke-width="1"/>
<line x1="413.0" y1="285.8" x2="417.79999999999995" y2="285.8" stroke="#2a1a10" stroke-width="1"/>
<line x1="413.0" y1="292.4" x2="417.79999999999995" y2="292.4" stroke="#2a1a10" stroke-width="1"/>
<line x1="415.4" y1="299.2" x2="415.4" y2="299.2" stroke="#2a1a10" stroke-width="1"/>
<line x1="413.0" y1="299.2" x2="417.79999999999995" y2="299.2" stroke="#2a1a10" stroke-width="1"/>
<line x1="413.0" y1="299.2" x2="417.79999999999995" y2="299.2" stroke="#2a1a10" stroke-width="1"/>
<line x1="415.4" y1="299.2" x2="415.4" y2="304.7" stroke="#2a1a10" stroke-width="1"/>
<line x1="415.4" y1="339.2" x2="415.4" y2="339.2" stroke="#2a1a10" stroke-width="1"/>
<line x1="413.0" y1="339.2" x2="417.79999999999995" y2="339.2" stroke="#2a1a10" stroke-width="1"/>
<line x1="413.0" y1="339.2" x2="417.79999999999995" y2="339.2" stroke="#2a1a10" stroke-width="1"/>
<line x1="415.4" y1="345.5" x2="415.4" y2="345.5" stroke="#2a1a10" stroke-width="1"/>
<line x1="413.0" y1="345.5" x2="417.79999999999995" y2="345.5" stroke="#2a1a10" stroke-width="1"/>
<line x1="413.0" y1="345.5" x2="417.79999999999995" y2="345.5" stroke="#2a1a10" stroke-width="1"/>
<line x1="415.4" y1="345.5" x2="415.4" y2="348" stroke="#2a1a10" stroke-width="1"/>
<circle cx="463.5" cy="256.5" r="0.95" fill="#231f20"/>
<circle cx="463.5" cy="313.8" r="0.95" fill="#231f20"/>
<rect x="473.9" y="236.1" width="10.10" height="4.00" fill="#958bd2"/>
<text x="487.2" y="241.1" font-size="8.5" text-anchor="start" font-weight="normal" fill="#231f20" >M</text>
<rect x="473.9" y="250.2" width="10.10" height="4.00" fill="#c8681a"/>
<text x="487.2" y="255.2" font-size="8.5" text-anchor="start" font-weight="normal" fill="#231f20" >G</text>
<rect x="473.9" y="264.1" width="10.10" height="4.00" fill="#38ae38"/>
<text x="487.2" y="269.1" font-size="8.5" text-anchor="start" font-weight="normal" fill="#231f20" >GM</text>
<rect x="473.9" y="278.1" width="10.10" height="4.00" fill="#fbc60a"/>
<text x="487.2" y="283.1" font-size="8.5" text-anchor="start" font-weight="normal" fill="#231f20" >GMEM</text>
<rect x="473.9" y="292.2" width="10.10" height="4.00" fill="#44536e"/>
<text x="487.2" y="297.2" font-size="8.5" text-anchor="start" font-weight="normal" fill="#231f20" >BFU-E</text>
<text x="89.9" y="393.8" font-size="11.8" text-anchor="start" font-weight="bold" fill="#000" stroke="#000" stroke-width="0.45">H</text>
<line x1="124.5" y1="404.9" x2="124.5" y2="571.1" stroke="#231f20" stroke-width="1"/>
<line x1="121.5" y1="407.4" x2="124.5" y2="407.4" stroke="#231f20" stroke-width="1"/>
<text x="118.3" y="410.4" font-size="8.2" text-anchor="end" font-weight="normal" fill="#231f20" >250</text>
<line x1="121.5" y1="440.1" x2="124.5" y2="440.1" stroke="#231f20" stroke-width="1"/>
<text x="118.3" y="443.1" font-size="8.2" text-anchor="end" font-weight="normal" fill="#231f20" >200</text>
<line x1="121.5" y1="472.9" x2="124.5" y2="472.9" stroke="#231f20" stroke-width="1"/>
<text x="118.3" y="475.9" font-size="8.2" text-anchor="end" font-weight="normal" fill="#231f20" >150</text>
<line x1="121.5" y1="505.6" x2="124.5" y2="505.6" stroke="#231f20" stroke-width="1"/>
<text x="118.3" y="508.6" font-size="8.2" text-anchor="end" font-weight="normal" fill="#231f20" >100</text>
<line x1="121.5" y1="538.4" x2="124.5" y2="538.4" stroke="#231f20" stroke-width="1"/>
<text x="118.3" y="541.4" font-size="8.2" text-anchor="end" font-weight="normal" fill="#231f20" >50</text>
<line x1="121.5" y1="571.1" x2="124.5" y2="571.1" stroke="#231f20" stroke-width="1"/>
<text x="118.3" y="574.1" font-size="8.2" text-anchor="end" font-weight="normal" fill="#231f20" >0</text>
<rect x="131.3" y="413.8" width="18.50" height="14.70" fill="#28a5e0"/>
<rect x="131.3" y="428.5" width="18.50" height="140.70" fill="#c8c6ca"/>
<rect x="164" y="414" width="18.70" height="18.10" fill="#28a5e0"/>
<rect x="164" y="432.1" width="18.70" height="137.10" fill="#c8c6ca"/>
<rect x="197" y="414.1" width="18.60" height="1.80" fill="#e6017d"/>
<rect x="197" y="415.9" width="18.60" height="26.20" fill="#28a5e0"/>
<rect x="197" y="442.1" width="18.60" height="127.10" fill="#c8c6ca"/>
<rect x="230.1" y="414.1" width="18.70" height="6.50" fill="#e6017d"/>
<rect x="230.1" y="420.6" width="18.70" height="67.40" fill="#28a5e0"/>
<rect x="230.1" y="488" width="18.70" height="81.20" fill="#c8c6ca"/>
<line x1="124.5" y1="571.1" x2="255.4" y2="571.1" stroke="#231f20" stroke-width="1"/>
<line x1="140.6" y1="571.1" x2="140.6" y2="574.0" stroke="#231f20" stroke-width="1"/>
<line x1="173.6" y1="571.1" x2="173.6" y2="574.0" stroke="#231f20" stroke-width="1"/>
<line x1="206.3" y1="571.1" x2="206.3" y2="574.0" stroke="#231f20" stroke-width="1"/>
<line x1="239.5" y1="571.1" x2="239.5" y2="574.0" stroke="#231f20" stroke-width="1"/>
<text x="140.5" y="584.4" font-size="8.5" text-anchor="middle" font-weight="normal" fill="#231f20" >WT</text>
<text x="173.3" y="584.4" font-size="8.5" text-anchor="middle" font-weight="normal" fill="#231f20" >R188Q/+</text>
<text x="206" y="584.4" font-size="8.5" text-anchor="middle" font-weight="normal" fill="#231f20" >WT</text>
<text x="239.2" y="584.4" font-size="8.5" text-anchor="middle" font-weight="normal" fill="#231f20" >R188Q/+</text>
<line x1="132.7" y1="590" x2="184.3" y2="590" stroke="#231f20" stroke-width="0.9"/>
<line x1="198.5" y1="590" x2="250.5" y2="590" stroke="#231f20" stroke-width="0.9"/>
<text x="158.4" y="600.1" font-size="7.9" text-anchor="middle" font-weight="normal" fill="#231f20" >no irradiation</text>
<text x="224.4" y="600.1" font-size="7.9" text-anchor="middle" font-weight="normal" fill="#231f20" >irradiation</text>
<text x="0" y="0" font-size="9" text-anchor="middle" fill="#231f20" transform="translate(98,487.1) rotate(-90)" stroke="#231f20" stroke-width="0.35" textLength="24.2" lengthAdjust="spacingAndGlyphs"># nuclei</text>
<line x1="141.2" y1="412.3" x2="141.2" y2="415.7" stroke="#231f20" stroke-width="1"/>
<line x1="139.45" y1="412.3" x2="142.95" y2="412.3" stroke="#231f20" stroke-width="1"/>
<line x1="139.45" y1="415.7" x2="142.95" y2="415.7" stroke="#231f20" stroke-width="1"/>
<line x1="141.2" y1="421.8" x2="141.2" y2="434.6" stroke="#231f20" stroke-width="1"/>
<line x1="139.45" y1="421.8" x2="142.95" y2="421.8" stroke="#231f20" stroke-width="1"/>
<line x1="139.45" y1="434.6" x2="142.95" y2="434.6" stroke="#231f20" stroke-width="1"/>
<line x1="173.4" y1="414" x2="173.4" y2="416.3" stroke="#231f20" stroke-width="1"/>
<line x1="171.65" y1="414" x2="175.15" y2="414" stroke="#231f20" stroke-width="1"/>
<line x1="171.65" y1="416.3" x2="175.15" y2="416.3" stroke="#231f20" stroke-width="1"/>
<line x1="173.4" y1="425.2" x2="173.4" y2="438.3" stroke="#231f20" stroke-width="1"/>
<line x1="171.65" y1="425.2" x2="175.15" y2="425.2" stroke="#231f20" stroke-width="1"/>
<line x1="171.65" y1="438.3" x2="175.15" y2="438.3" stroke="#231f20" stroke-width="1"/>
<line x1="206.2" y1="414.2" x2="206.2" y2="417.2" stroke="#231f20" stroke-width="1"/>
<line x1="204.45" y1="414.2" x2="207.95" y2="414.2" stroke="#231f20" stroke-width="1"/>
<line x1="204.45" y1="417.2" x2="207.95" y2="417.2" stroke="#231f20" stroke-width="1"/>
<line x1="206.2" y1="435.1" x2="206.2" y2="448.2" stroke="#231f20" stroke-width="1"/>
<line x1="204.45" y1="435.1" x2="207.95" y2="435.1" stroke="#231f20" stroke-width="1"/>
<line x1="204.45" y1="448.2" x2="207.95" y2="448.2" stroke="#231f20" stroke-width="1"/>
<line x1="239.5" y1="413.8" x2="239.5" y2="423.3" stroke="#231f20" stroke-width="1"/>
<line x1="237.75" y1="413.8" x2="241.25" y2="413.8" stroke="#231f20" stroke-width="1"/>
<line x1="237.75" y1="423.3" x2="241.25" y2="423.3" stroke="#231f20" stroke-width="1"/>
<line x1="239.5" y1="482.6" x2="239.5" y2="491.6" stroke="#231f20" stroke-width="1"/>
<line x1="237.75" y1="482.6" x2="241.25" y2="482.6" stroke="#231f20" stroke-width="1"/>
<line x1="237.75" y1="491.6" x2="241.25" y2="491.6" stroke="#231f20" stroke-width="1"/>
<path d="M144.4 413.5 V408.8 H168.3 V413.5" fill="none" stroke="#6b6b6b" stroke-width="1.1"/>
<text x="156.2" y="406.6" font-size="7.7" text-anchor="middle" font-weight="normal" fill="#231f20" >ns</text>
<line x1="144.4" y1="426.5" x2="168.3" y2="426.5" stroke="#505050" stroke-width="1.2"/>
<text x="156.2" y="424.4" font-size="7.7" text-anchor="middle" font-weight="normal" fill="#231f20" >ns</text>
<path d="M210.5 413.8 V409.1 H234.4 V413.8" fill="none" stroke="#4a4a4a" stroke-width="1.1"/>
<circle cx="221.15" cy="405.80" r="1.05" fill="#231f20"/>
<circle cx="224.25" cy="405.80" r="1.05" fill="#231f20"/>
<line x1="211.5" y1="431.6" x2="235.8" y2="431.6" stroke="#4a4a4a" stroke-width="1.1"/>
<circle cx="221.15" cy="428.00" r="1.05" fill="#231f20"/>
<circle cx="224.25" cy="428.00" r="1.05" fill="#231f20"/>
<line x1="144.8" y1="517" x2="169" y2="517" stroke="#383838" stroke-width="1.2"/>
<text x="156.9" y="514.4" font-size="7.7" text-anchor="middle" font-weight="normal" fill="#231f20" >ns</text>
<line x1="211.5" y1="517.2" x2="235.8" y2="517.2" stroke="#383838" stroke-width="1.2"/>
<circle cx="222.10" cy="513.20" r="1.05" fill="#231f20"/>
<circle cx="225.20" cy="513.20" r="1.05" fill="#231f20"/>
<text x="267.4" y="430.7" font-size="7.6" text-anchor="start" font-weight="normal" fill="#231f20" textLength="45.6" lengthAdjust="spacingAndGlyphs"># foci/nucleus</text>
<rect x="269.2" y="436.5" width="7.60" height="6.80" fill="#e6017d"/>
<text x="279.9" y="442.7" font-size="7.8" text-anchor="start" font-weight="normal" fill="#231f20" >&gt; 4</text>
<rect x="269.2" y="448" width="7.60" height="6.80" fill="#28a5e0"/>
<text x="279.9" y="454.2" font-size="7.8" text-anchor="start" font-weight="normal" fill="#231f20" >1-4</text>
<rect x="269.2" y="459.4" width="7.60" height="6.80" fill="#c8c6ca"/>
<text x="279.9" y="465.59999999999997" font-size="7.8" text-anchor="start" font-weight="normal" fill="#231f20" >0</text>
<text x="328.2" y="393.8" font-size="11.8" text-anchor="start" font-weight="bold" fill="#000" stroke="#000" stroke-width="0.45">I</text>
<line x1="362.5" y1="408.1" x2="362.5" y2="571.1" stroke="#231f20" stroke-width="1"/>
<line x1="359.5" y1="410.5" x2="362.5" y2="410.5" stroke="#231f20" stroke-width="1"/>
<text x="356.3" y="413.5" font-size="8.2" text-anchor="end" font-weight="normal" fill="#231f20" >400</text>
<line x1="359.5" y1="450.7" x2="362.5" y2="450.7" stroke="#231f20" stroke-width="1"/>
<text x="356.3" y="453.7" font-size="8.2" text-anchor="end" font-weight="normal" fill="#231f20" >300</text>
<line x1="359.5" y1="490.8" x2="362.5" y2="490.8" stroke="#231f20" stroke-width="1"/>
<text x="356.3" y="493.8" font-size="8.2" text-anchor="end" font-weight="normal" fill="#231f20" >200</text>
<line x1="359.5" y1="530.9" x2="362.5" y2="530.9" stroke="#231f20" stroke-width="1"/>
<text x="356.3" y="533.9" font-size="8.2" text-anchor="end" font-weight="normal" fill="#231f20" >100</text>
<line x1="359.5" y1="571.1" x2="362.5" y2="571.1" stroke="#231f20" stroke-width="1"/>
<text x="356.3" y="574.1" font-size="8.2" text-anchor="end" font-weight="normal" fill="#231f20" >0</text>
<rect x="370.1" y="411.2" width="18.70" height="34.60" fill="#e6017d"/>
<rect x="370.1" y="445.8" width="18.70" height="40.60" fill="#28a5e0"/>
<rect x="370.1" y="486.4" width="18.70" height="82.80" fill="#c8c6ca"/>
<rect x="404.2" y="410.7" width="18.80" height="11.70" fill="#e6017d"/>
<rect x="404.2" y="422.4" width="18.80" height="29.50" fill="#28a5e0"/>
<rect x="404.2" y="451.9" width="18.80" height="117.30" fill="#c8c6ca"/>
<line x1="362.5" y1="571.1" x2="430.6" y2="571.1" stroke="#231f20" stroke-width="1"/>
<line x1="379.4" y1="571.1" x2="379.4" y2="574.0" stroke="#231f20" stroke-width="1"/>
<line x1="413.7" y1="571.1" x2="413.7" y2="574.0" stroke="#231f20" stroke-width="1"/>
<text x="379.3" y="584.5" font-size="8.5" text-anchor="middle" font-weight="normal" fill="#231f20" >0μM</text>
<text x="414.1" y="584.5" font-size="8.5" text-anchor="middle" font-weight="normal" fill="#231f20" >1μM</text>
<text x="356.3" y="584.5" font-size="7.9" text-anchor="end" font-weight="normal" fill="#231f20" >imatinib</text>
<text x="0" y="0" font-size="9" text-anchor="middle" fill="#231f20" transform="translate(337,489) rotate(-90)" stroke="#231f20" stroke-width="0.35" textLength="55.3" lengthAdjust="spacingAndGlyphs"># R188Q/+ nuclei</text>
<line x1="379.4" y1="410.8" x2="379.4" y2="411.6" stroke="#231f20" stroke-width="1"/>
<line x1="377.65" y1="410.8" x2="381.15" y2="410.8" stroke="#231f20" stroke-width="1"/>
<line x1="377.65" y1="411.6" x2="381.15" y2="411.6" stroke="#231f20" stroke-width="1"/>
<line x1="379.4" y1="444.2" x2="379.4" y2="448.1" stroke="#231f20" stroke-width="1"/>
<line x1="377.65" y1="444.2" x2="381.15" y2="444.2" stroke="#231f20" stroke-width="1"/>
<line x1="377.65" y1="448.1" x2="381.15" y2="448.1" stroke="#231f20" stroke-width="1"/>
<line x1="379.4" y1="481" x2="379.4" y2="489.5" stroke="#231f20" stroke-width="1"/>
<line x1="377.65" y1="481" x2="381.15" y2="481" stroke="#231f20" stroke-width="1"/>
<line x1="377.65" y1="489.5" x2="381.15" y2="489.5" stroke="#231f20" stroke-width="1"/>
<line x1="413.8" y1="410.6" x2="413.8" y2="411.4" stroke="#231f20" stroke-width="1"/>
<line x1="412.05" y1="410.6" x2="415.55" y2="410.6" stroke="#231f20" stroke-width="1"/>
<line x1="412.05" y1="411.4" x2="415.55" y2="411.4" stroke="#231f20" stroke-width="1"/>
<line x1="413.8" y1="421.5" x2="413.8" y2="423.5" stroke="#231f20" stroke-width="1"/>
<line x1="412.05" y1="421.5" x2="415.55" y2="421.5" stroke="#231f20" stroke-width="1"/>
<line x1="412.05" y1="423.5" x2="415.55" y2="423.5" stroke="#231f20" stroke-width="1"/>
<line x1="413.8" y1="446.5" x2="413.8" y2="456.5" stroke="#231f20" stroke-width="1"/>
<line x1="412.05" y1="446.5" x2="415.55" y2="446.5" stroke="#231f20" stroke-width="1"/>
<line x1="412.05" y1="456.5" x2="415.55" y2="456.5" stroke="#231f20" stroke-width="1"/>
<line x1="386.5" y1="417.3" x2="408.8" y2="417.3" stroke="#383838" stroke-width="1.2"/>
<circle cx="396.10" cy="413.30" r="1.05" fill="#231f20"/>
<circle cx="399.20" cy="413.30" r="1.05" fill="#231f20"/>
<line x1="386.5" y1="449.6" x2="409.6" y2="449.6" stroke="#383838" stroke-width="1.2"/>
<circle cx="398.05" cy="445.60" r="1.05" fill="#231f20"/>
<line x1="386.1" y1="534.4" x2="409.4" y2="534.4" stroke="#383838" stroke-width="1.2"/>
<circle cx="396.20" cy="530.40" r="1.05" fill="#231f20"/>
<circle cx="399.30" cy="530.40" r="1.05" fill="#231f20"/>
</svg></body></html>
